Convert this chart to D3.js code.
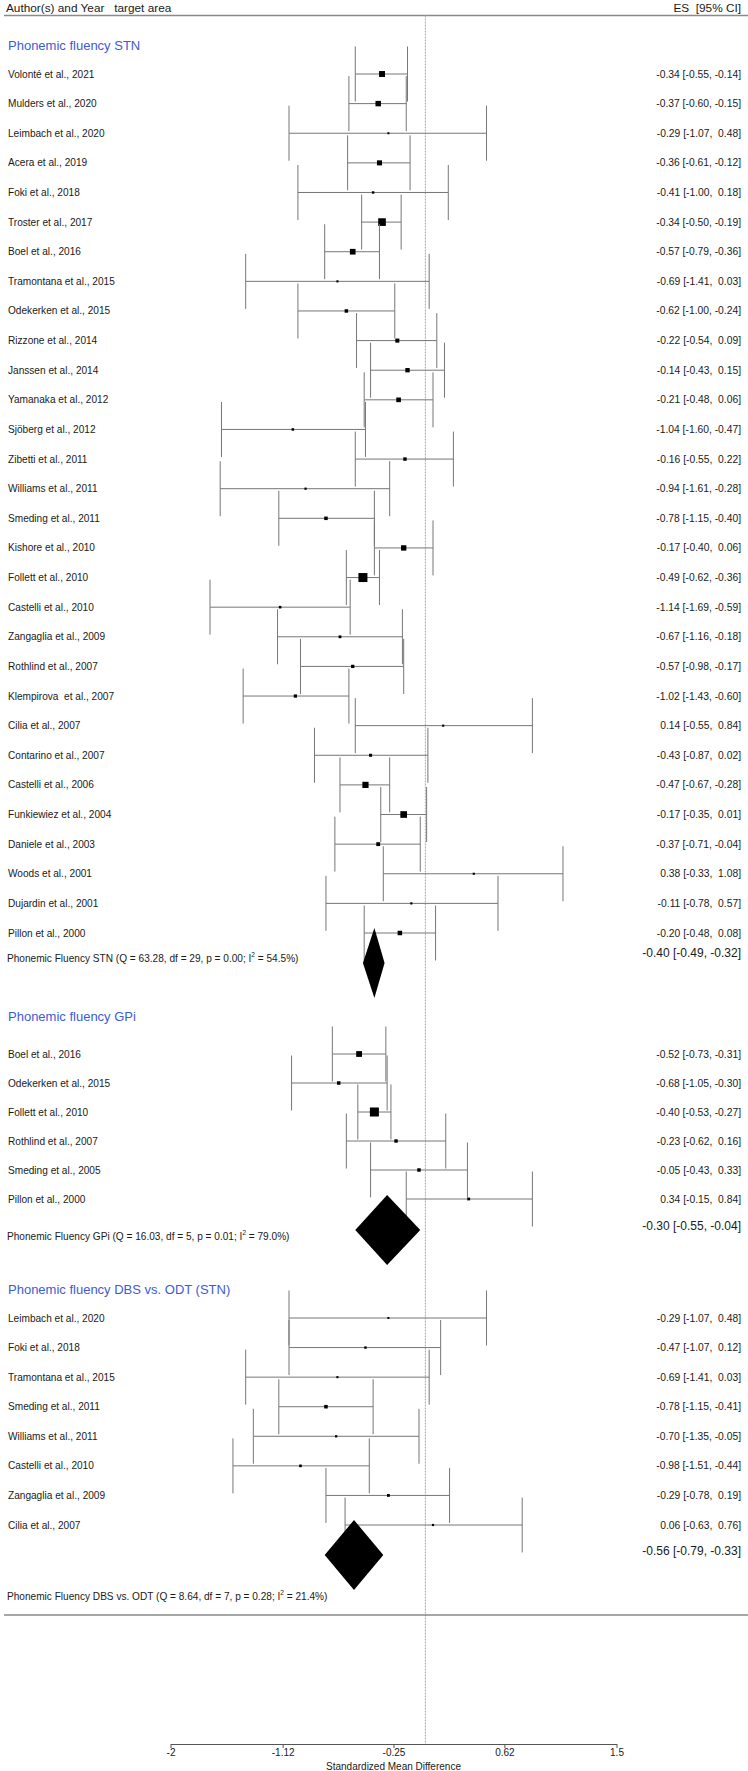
<!DOCTYPE html>
<html>
<head>
<meta charset="utf-8">
<script src="https://cdn.jsdelivr.net/npm/d3@7"></script>
<style>
  html, body { margin: 0; padding: 0; background: #fff; }
  svg { display: block; font-family: "Liberation Sans", Arial, sans-serif; }
  text { white-space: pre; }
</style>
</head>
<body>
<svg id="chart" width="748" height="1771"></svg>
<script>
// ---------- DATA ----------
const stnStudies = ["Volonté et al., 2021","Mulders et al., 2020","Leimbach et al., 2020","Acera et al., 2019","Foki et al., 2018","Troster et al., 2017","Boel et al., 2016","Tramontana et al., 2015","Odekerken et al., 2015","Rizzone et al., 2014","Janssen et al., 2014","Yamanaka et al., 2012","Sjöberg et al., 2012","Zibetti et al., 2011","Williams et al., 2011","Smeding et al., 2011","Kishore et al., 2010","Follett et al., 2010","Castelli et al., 2010","Zangaglia et al., 2009","Rothlind et al., 2007","Klempirova  et al., 2007","Cilia et al., 2007","Contarino et al., 2007","Castelli et al., 2006","Funkiewiez et al., 2004","Daniele et al., 2003","Woods et al., 2001","Dujardin et al., 2001","Pillon et al., 2000"];
const stnES = [-0.34,-0.37,-0.29,-0.36,-0.41,-0.34,-0.57,-0.69,-0.62,-0.22,-0.14,-0.21,-1.04,-0.16,-0.94,-0.78,-0.17,-0.49,-1.14,-0.67,-0.57,-1.02,0.14,-0.43,-0.47,-0.17,-0.37,0.38,-0.11,-0.20];
const stnLo = [-0.55,-0.60,-1.07,-0.61,-1.00,-0.50,-0.79,-1.41,-1.00,-0.54,-0.43,-0.48,-1.60,-0.55,-1.61,-1.15,-0.40,-0.62,-1.69,-1.16,-0.98,-1.43,-0.55,-0.87,-0.67,-0.35,-0.71,-0.33,-0.78,-0.48];
const stnHi = [-0.14,-0.15,0.48,-0.12,0.18,-0.19,-0.36,0.03,-0.24,0.09,0.15,0.06,-0.47,0.22,-0.28,-0.40,0.06,-0.36,-0.59,-0.18,-0.17,-0.60,0.84,0.02,-0.28,0.01,-0.04,1.08,0.57,0.08];
const stnSummary = [-0.40,-0.49,-0.32];

const gpiStudies = ["Boel et al., 2016","Odekerken et al., 2015","Follett et al., 2010","Rothlind et al., 2007","Smeding et al., 2005","Pillon et al., 2000"];
const gpiES = [-0.52,-0.68,-0.40,-0.23,-0.05,0.34];
const gpiLo = [-0.73,-1.05,-0.53,-0.62,-0.43,-0.15];
const gpiHi = [-0.31,-0.30,-0.27,0.16,0.33,0.84];
const gpiSummary = [-0.30,-0.55,-0.04];

const odtStudies = ["Leimbach et al., 2020","Foki et al., 2018","Tramontana et al., 2015","Smeding et al., 2011","Williams et al., 2011","Castelli et al., 2010","Zangaglia et al., 2009","Cilia et al., 2007"];
const odtES = [-0.29,-0.47,-0.69,-0.78,-0.70,-0.98,-0.29,0.06];
const odtLo = [-1.07,-1.07,-1.41,-1.15,-1.35,-1.51,-0.78,-0.63];
const odtHi = [0.48,0.12,0.03,-0.41,-0.05,-0.44,0.19,0.76];
const odtSummary = [-0.56,-0.79,-0.33];

const groupTitles = ["Phonemic fluency STN","Phonemic fluency GPi","Phonemic fluency DBS vs. ODT (STN)"];
const groupNames = ["Phonemic Fluency STN","Phonemic Fluency GPi","Phonemic Fluency DBS vs. ODT"];
const groupQ = [63.28, 16.03, 8.64];
const groupDf = [29, 5, 7];
const groupP = ["0.00","0.01","0.28"];
const groupI2 = ["54.5","79.0","21.4"];

const tickValues = [-2, -1.12, -0.25, 0.62, 1.5];
const tickLabels = ["-2", "-1.12", "-0.25", "0.62", "1.5"];
const axisTitle = "Standardized Mean Difference";
const headerLeft = "Author(s) and Year   target area";
const headerRight = "ES  [95% CI]";

// ---------- LAYOUT ----------
const W = 748;
const svg = d3.select("#chart");
const x = d3.scaleLinear().domain([-2, 1.5]).range([170.5, 616.5]);
const axisY = 1744;

const layout = [
  {titleY: 45,   first: 74,   last: 933,  diamondY: 963,  sumLeftY: 958,  sumRightY: 953},
  {titleY: 1016, first: 1054, last: 1199, diamondY: 1230, sumLeftY: 1236, sumRightY: 1226},
  {titleY: 1289, first: 1318, last: 1525, diamondY: 1555, sumLeftY: 1596, sumRightY: 1551}
];

const groups = [
  {studies: stnStudies, es: stnES, lo: stnLo, hi: stnHi, sum: stnSummary},
  {studies: gpiStudies, es: gpiES, lo: gpiLo, hi: gpiHi, sum: gpiSummary},
  {studies: odtStudies, es: odtES, lo: odtLo, hi: odtHi, sum: odtSummary}
];

// marker size from precision (1/CI width)
const allInv = [];
groups.forEach(g => g.lo.forEach((l, i) => allInv.push(1 / (g.hi[i] - l))));
const sizeScale = d3.scaleLinear().domain(d3.extent(allInv)).range([2, 9]);

function esLabel(e, l, h) {
  const est = e < 0 ? "-" + Math.abs(e).toFixed(2) : Math.abs(e).toFixed(2);
  const lo = (l < 0 ? "-" : "") + Math.abs(l).toFixed(2);
  const hi = (h < 0 ? "-" : " ") + Math.abs(h).toFixed(2);
  return `${est} [${lo}, ${hi}]`;
}

const TXT = "#1a1a1a";
const LINE = "#767676";
const LABEL_FS = 10.1;
const ES_FS = 10.3;

// header
svg.append("text").attr("x", 6).attr("y", 8).attr("dominant-baseline", "central")
  .attr("font-size", 11.8).attr("fill", TXT).text(headerLeft);
svg.append("text").attr("x", 741).attr("y", 8).attr("dominant-baseline", "central")
  .attr("text-anchor", "end").attr("font-size", 11.8).attr("fill", TXT).text(headerRight);
svg.append("line").attr("x1", 4).attr("x2", W).attr("y1", 15.5).attr("y2", 15.5)
  .attr("stroke", "#8a8a8a").attr("stroke-width", 1.3);

// zero reference line
svg.append("line").attr("x1", x(0)).attr("x2", x(0)).attr("y1", 15.5).attr("y2", axisY)
  .attr("stroke", "#a8a8a8").attr("stroke-width", 1).attr("stroke-dasharray", "2,1");

const CAP = 27.5;

groups.forEach((g, gi) => {
  const L = layout[gi];
  const y = d3.scaleLinear().domain([0, g.studies.length - 1]).range([L.first, L.last]);
  const gSel = svg.append("g");

  gSel.append("text").attr("x", 8).attr("y", L.titleY).attr("dominant-baseline", "central")
    .attr("font-size", 13).attr("fill", "#3d5bd9").text(groupTitles[gi]);

  const rows = g.studies.map((s, i) => ({s, e: g.es[i], l: g.lo[i], h: g.hi[i], i}));

  const r = gSel.selectAll("g.row").data(rows).join("g").attr("class", "row");
  r.append("text").attr("x", 8).attr("y", d => y(d.i)).attr("dominant-baseline", "central")
    .attr("font-size", LABEL_FS).attr("fill", TXT).text(d => d.s);
  r.append("text").attr("x", 741).attr("y", d => y(d.i)).attr("dominant-baseline", "central")
    .attr("text-anchor", "end").attr("font-size", ES_FS).attr("fill", TXT)
    .text(d => esLabel(d.e, d.l, d.h));
  r.append("line").attr("x1", d => x(d.l)).attr("x2", d => x(d.h))
    .attr("y1", d => y(d.i)).attr("y2", d => y(d.i)).attr("stroke", LINE).attr("stroke-width", 1);
  r.append("line").attr("x1", d => x(d.l)).attr("x2", d => x(d.l))
    .attr("y1", d => y(d.i) - CAP).attr("y2", d => y(d.i) + CAP).attr("stroke", LINE).attr("stroke-width", 1);
  r.append("line").attr("x1", d => x(d.h)).attr("x2", d => x(d.h))
    .attr("y1", d => y(d.i) - CAP).attr("y2", d => y(d.i) + CAP).attr("stroke", LINE).attr("stroke-width", 1);
  r.append("rect")
    .attr("x", d => x(d.e) - sizeScale(1 / (d.h - d.l)) / 2)
    .attr("y", d => y(d.i) - sizeScale(1 / (d.h - d.l)) / 2)
    .attr("width", d => sizeScale(1 / (d.h - d.l)))
    .attr("height", d => sizeScale(1 / (d.h - d.l)))
    .attr("fill", "#000");

  // summary diamond
  const [se, sl, sh] = g.sum;
  const dy = L.diamondY, hh = 35;
  gSel.append("path")
    .attr("d", `M${x(sl)},${dy} L${x(se)},${dy - hh} L${x(sh)},${dy} L${x(se)},${dy + hh} Z`)
    .attr("fill", "#000");

  const st = gSel.append("text").attr("x", 7).attr("y", L.sumLeftY).attr("dominant-baseline", "central")
    .attr("font-size", LABEL_FS).attr("fill", TXT);
  st.append("tspan").text(`${groupNames[gi]} (Q = ${groupQ[gi].toFixed(2)}, df = ${groupDf[gi]}, p = ${groupP[gi]}; I`);
  st.append("tspan").attr("dy", -4).attr("font-size", 6.5).text("2");
  st.append("tspan").attr("dy", 4).text(` = ${groupI2[gi]}%)`);

  gSel.append("text").attr("x", 741).attr("y", L.sumRightY).attr("dominant-baseline", "central")
    .attr("text-anchor", "end").attr("font-size", 12).attr("fill", TXT)
    .text(esLabel(se, sl, sh));
});

// bottom separator
svg.append("line").attr("x1", 4).attr("x2", W).attr("y1", 1615).attr("y2", 1615)
  .attr("stroke", "#8a8a8a").attr("stroke-width", 1.3);

// axis
const axis = d3.axisBottom(x).tickValues(tickValues)
  .tickFormat((d, i) => tickLabels[i]).tickSize(4).tickSizeOuter(0);
const ag = svg.append("g").attr("transform", `translate(0,${axisY})`).call(axis);
ag.select(".domain").attr("stroke", "#555");
ag.selectAll(".tick line").attr("stroke", "#555");
ag.selectAll(".tick text").attr("font-size", 10).attr("fill", TXT)
  .attr("font-family", "Liberation Sans, Arial, sans-serif").attr("y", 5).attr("dy", "0.71em");

svg.append("text").attr("x", x(-0.25)).attr("y", 1766).attr("dominant-baseline", "central")
  .attr("text-anchor", "middle").attr("font-size", 10).attr("fill", TXT).text(axisTitle);
</script>
</body>
</html>
